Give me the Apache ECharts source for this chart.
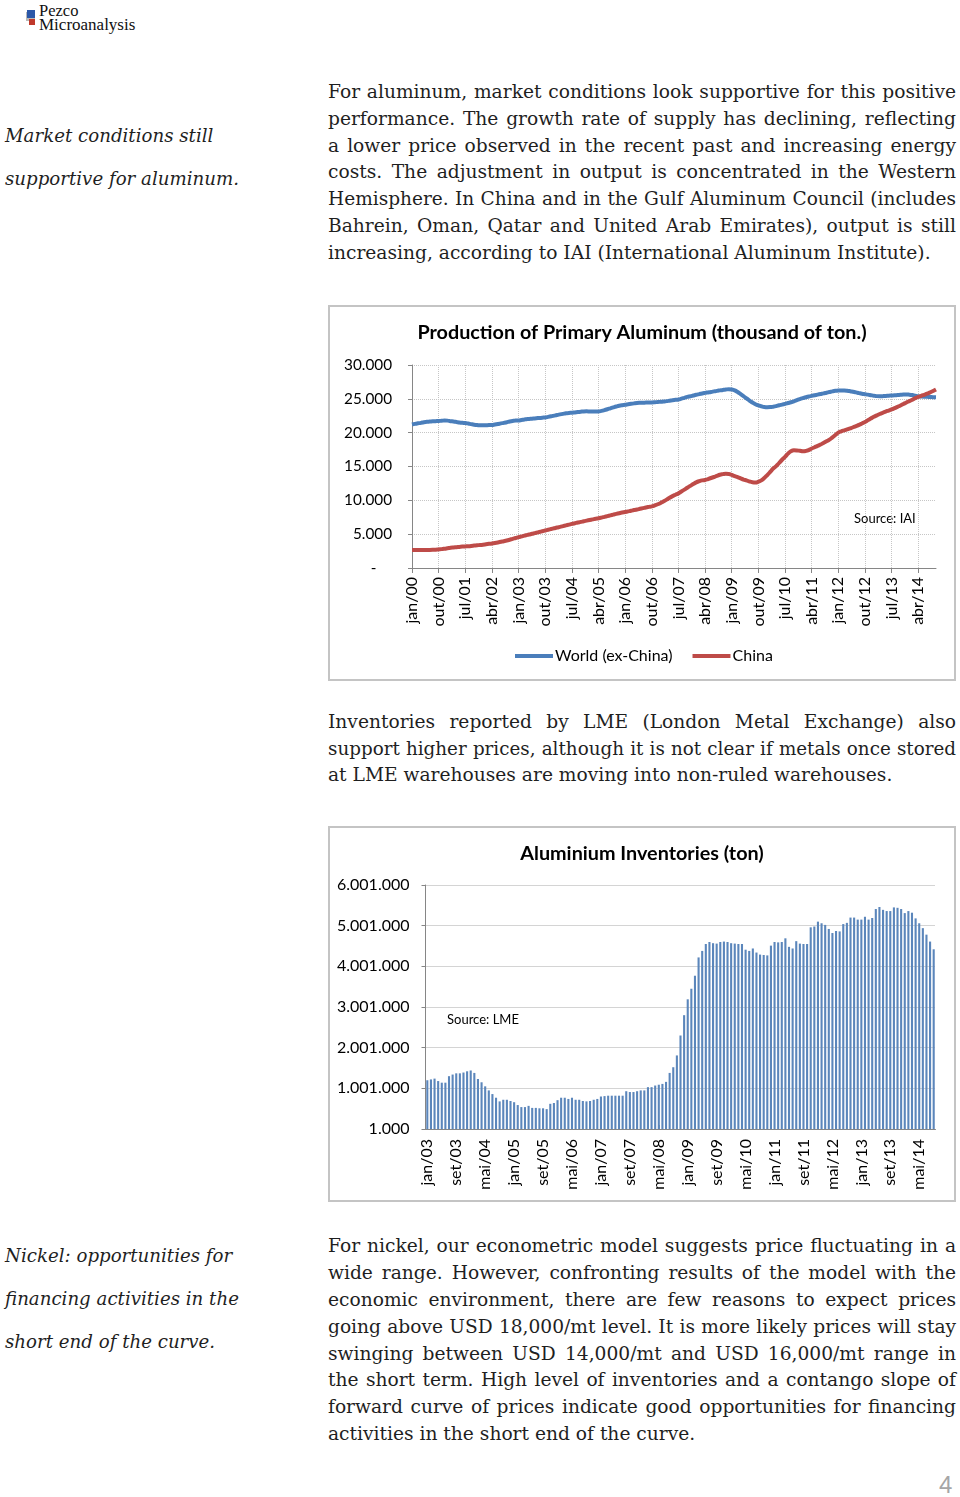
<!DOCTYPE html>
<html><head><meta charset="utf-8">
<script src="https://cdn.jsdelivr.net/npm/echarts@6/dist/echarts.min.js"></script>
<style>
html,body{margin:0;padding:0;background:#fff;}
body{width:960px;height:1497px;position:relative;overflow:hidden;}
.t{position:absolute;left:328px;margin-top:1px;font-family:"DejaVu Serif",serif;font-size:19px;color:#1f1f1f;white-space:nowrap;line-height:26px;height:26px;}
.j{width:628px;text-align:justify;text-align-last:justify;}
.side{left:5px;font-style:italic;}
.box{position:absolute;left:328px;width:628px;height:376px;border:2px solid #c4c4c4;box-sizing:border-box;}
.chart{position:absolute;left:328px;width:628px;height:376px;}
</style></head>
<body>
<div style="position:absolute;left:26px;top:12px;width:9px;height:9px;background:#b8b8b8;"></div>
<div style="position:absolute;left:27px;top:10px;width:8px;height:8px;background:#2b57a8;"></div>
<div style="position:absolute;left:29px;top:19px;width:6px;height:6px;background:#c0392b;"></div>
<div style="position:absolute;left:39px;top:2px;font-family:'Liberation Serif',serif;font-size:16.5px;color:#111;line-height:18px;">Pezco</div>
<div style="position:absolute;left:39px;top:16px;font-family:'Liberation Serif',serif;font-size:17px;color:#111;line-height:18px;">Microanalysis</div>

<div class="t side" style="top:122px;">Market conditions still</div>
<div class="t side" id="sideRef" style="top:165px;">supportive for aluminum.</div>

<div class="t j" style="top:78px;">For aluminum, market conditions look supportive for this positive</div>
<div class="t j" style="top:105px;">performance. The growth rate of supply has declining, reflecting</div>
<div class="t j" style="top:132px;">a lower price observed in the recent past and increasing energy</div>
<div class="t j" style="top:158px;">costs. The adjustment in output is concentrated in the Western</div>
<div class="t j" style="top:185px;">Hemisphere. In China and in the Gulf Aluminum Council (includes</div>
<div class="t j" style="top:212px;">Bahrein, Oman, Qatar and United Arab Emirates), output is still</div>
<div class="t" id="bodyRef" style="top:239px;">increasing, according to IAI (International Aluminum Institute).</div>

<div class="box" style="top:305px;"></div>
<div class="chart" id="c1" style="top:305px;"></div>

<div class="t j" style="top:708px;">Inventories reported by LME (London Metal Exchange) also</div>
<div class="t j" style="top:735px;">support higher prices, although it is not clear if metals once stored</div>
<div class="t" style="top:761px;">at LME warehouses are moving into non-ruled warehouses.</div>

<div class="box" style="top:826px;"></div>
<div class="chart" id="c2" style="top:826px;"></div>

<div class="t side" style="top:1242px;">Nickel: opportunities for</div>
<div class="t side" style="top:1285px;">financing activities in the</div>
<div class="t side" style="top:1328px;">short end of the curve.</div>

<div class="t j" style="top:1232px;">For nickel, our econometric model suggests price fluctuating in a</div>
<div class="t j" style="top:1259px;">wide range. However, confronting results of the model with the</div>
<div class="t j" style="top:1286px;">economic environment, there are few reasons to expect prices</div>
<div class="t j" style="top:1313px;">going above USD 18,000/mt level. It is more likely prices will stay</div>
<div class="t j" style="top:1340px;">swinging between USD 14,000/mt and USD 16,000/mt range in</div>
<div class="t j" style="top:1366px;">the short term. High level of inventories and a contango slope of</div>
<div class="t j" style="top:1393px;">forward curve of prices indicate good opportunities for financing</div>
<div class="t" style="top:1420px;">activities in the short end of the curve.</div>

<div style="position:absolute;left:939px;top:1471px;font-family:'Liberation Sans',sans-serif;font-size:24px;color:#a6a6a6;">4</div>

<script>
// ---------- data ----------
const monthAbbr = ['jan','fev','mar','abr','mai','jun','jul','ago','set','out','nov','dez'];

// Production of primary aluminum, monthly from jan/2000 (thousand ton)
const prodWorld = [
  21200,21300,21380,21450,21550,21600,21640,21680,21700,
  21720,21760,21800,21780,21700,21650,21580,21500,21450,
  21420,21350,21260,21180,21120,21080,21080,21100,21120,
  21130,21200,21280,21370,21450,21550,21650,21730,21790,
  21810,21880,21950,22010,22050,22090,22130,22180,22220,
  22250,22330,22420,22520,22620,22700,22780,22860,22920,
  22940,22990,23050,23100,23140,23150,23140,23130,23130,
  23140,23220,23330,23460,23600,23740,23870,23980,24060,
  24120,24200,24270,24330,24380,24410,24430,24440,24450,
  24460,24490,24530,24570,24610,24660,24730,24800,24850,
  24900,25020,25150,25280,25380,25490,25600,25700,25800,
  25880,25950,26020,26100,26180,26250,26320,26380,26420,
  26380,26250,26000,25700,25380,25050,24750,24450,24200,
  24020,23900,23800,23770,23780,23830,23920,24050,24150,
  24260,24380,24500,24640,24800,24960,25100,25230,25350,
  25440,25530,25620,25710,25800,25900,26000,26100,26180,
  26230,26250,26240,26200,26130,26040,25950,25850,25760,
  25690,25620,25540,25460,25400,25390,25400,25420,25460,
  25490,25520,25560,25600,25640,25650,25620,25560,25470,
  25390,25350,25320,25300,25270,25240,25220
];
const prodChina = [
  2650,2650,2650,2650,2650,2650,2660,2680,2710,
  2750,2790,2850,2920,2990,3040,3080,3120,3160,
  3190,3220,3260,3310,3360,3400,3450,3510,3570,
  3630,3700,3780,3870,3960,4060,4180,4310,4430,
  4560,4670,4780,4900,4990,5100,5210,5320,5430,
  5540,5650,5760,5870,5980,6080,6190,6300,6410,
  6520,6620,6720,6810,6910,7000,7090,7180,7270,
  7350,7450,7560,7670,7780,7890,8000,8100,8190,
  8280,8370,8460,8560,8650,8750,8850,8950,9030,
  9100,9250,9420,9620,9850,10100,10380,10620,10830,
  11030,11300,11580,11860,12130,12400,12650,12830,12950,
  13000,13150,13300,13450,13600,13780,13870,13920,13900,
  13750,13580,13430,13250,13060,12940,12780,12680,12650,
  12750,12950,13300,13730,14200,14700,15050,15520,16000,
  16420,16900,17260,17400,17380,17320,17260,17300,17420,
  17650,17850,18050,18240,18480,18720,18970,19300,19650,
  20000,20200,20350,20490,20640,20800,20980,21160,21360,
  21570,21850,22100,22350,22560,22760,22940,23110,23270,
  23430,23620,23820,24020,24240,24460,24660,24870,25100,
  25290,25440,25600,25760,25950,26150,26370
];

// LME aluminium inventories, monthly from jan/2003 (thousand ton)
const invThousand = [
  1200,1220,1240,1180,1140,1140,1300,1340,1370,1370,
  1390,1420,1440,1380,1230,1150,1050,950,860,770,
  680,720,720,690,660,590,540,540,570,520,
  520,510,510,490,620,640,710,770,770,740,
  770,720,720,690,680,690,720,740,800,810,
  820,820,820,820,820,930,910,910,930,950,
  950,1030,1030,1070,1090,1110,1160,1380,1520,1810,
  2300,2800,3190,3450,3770,4220,4380,4550,4600,4570,
  4560,4600,4610,4600,4570,4560,4550,4550,4410,4380,
  4440,4340,4290,4280,4270,4510,4600,4590,4600,4690,
  4480,4440,4620,4560,4550,4550,4960,4980,5100,5060,
  5020,4920,4820,4870,4860,5040,5070,5200,5200,5150,
  5150,5220,5150,5190,5410,5460,5390,5360,5360,5450,
  5440,5410,5310,5360,5320,5180,5060,4940,4780,4610,4420
];
const invValues = invThousand.map(v => v * 1000);

// y-axis settings
const prodTicks = {min:0, max:30000, interval:5000};
const invTicks = {min:1000, max:6001000, interval:1000000};

function monthLabels(startYear, n){
  const out = [];
  for (let i = 0; i < n; i++){
    const m = i % 12, y = startYear + Math.floor(i / 12);
    out.push(monthAbbr[m] + '/' + String(y % 100).padStart(2,'0'));
  }
  return out;
}
const prodMonths = monthLabels(2000, prodWorld.length);
const invMonths = monthLabels(2003, invValues.length);

function dotThousands(v){
  return String(Math.round(v)).replace(/\B(?=(\d{3})+(?!\d))/g, '.');
}

// ---------- text fitting (match widths of the printed page) ----------
(function fitText(){
  const cv = document.createElement('canvas').getContext('2d');
  function widthAt(el, size){
    const cs = getComputedStyle(el);
    cv.font = cs.fontStyle + ' ' + size + 'px ' + cs.fontFamily;
    return cv.measureText(el.textContent).width;
  }
  const bodyRef = document.getElementById('bodyRef');
  const bodySize = 100 * 603 / widthAt(bodyRef, 100);
  const sideRef = document.getElementById('sideRef');
  const sideSize = 100 * 234 / widthAt(sideRef, 100);
  document.querySelectorAll('.t').forEach(el => {
    let s = el.classList.contains('side') ? sideSize : bodySize;
    if (el.classList.contains('j')){
      const w = widthAt(el, s);
      if (w > 624) s = s * 624 / w;
    }
    el.style.fontSize = s.toFixed(2) + 'px';
  });
})();

const FONT = 'Lato';
const axisGray = '#868686';
const gridGray = '#c6c6c6';

// ---------- chart 1 ----------
const c1 = echarts.init(document.getElementById('c1'));
c1.setOption({
  animation:false,
  textStyle:{fontFamily:FONT},
  title:{text:'Production of Primary Aluminum (thousand of ton.)', left:'center', top:13,
    textStyle:{fontFamily:FONT, fontWeight:'bold', fontSize:19.8, color:'#000'}},
  grid:{left:84, top:60, width:524, height:203},
  legend:{left:182, top:338, icon:'rect', itemWidth:38, itemHeight:4, itemGap:20,
    textStyle:{fontFamily:FONT, fontSize:16, color:'#000', padding:[0,0,0,-3]},
    data:['World (ex-China)','China']},
  xAxis:{type:'category', boundaryGap:false, data:prodMonths,
    axisLine:{lineStyle:{color:axisGray, width:1}},
    axisTick:{show:true, interval:8, length:5, lineStyle:{color:axisGray}},
    axisLabel:{interval:8, rotate:90, fontSize:16, color:'#000', margin:9, fontFamily:FONT},
    splitLine:{show:true, interval:8, lineStyle:{type:'dotted', color:gridGray}}},
  yAxis:{type:'value', min:prodTicks.min, max:prodTicks.max, interval:prodTicks.interval,
    axisLine:{show:true, lineStyle:{color:axisGray}},
    axisTick:{show:true, length:4, lineStyle:{color:axisGray}},
    axisLabel:{fontSize:15.3, color:'#000', margin:20, fontFamily:FONT,
      formatter:v => v === 0 ? '-    ' : dotThousands(v)},
    splitLine:{show:true, lineStyle:{type:'dotted', color:gridGray}}},
  graphic:[{type:'text', left:526, top:207,
    style:{text:'Source: IAI', fontSize:13, fill:'#000', fontFamily:FONT}}],
  series:[
    {name:'World (ex-China)', type:'line', data:prodWorld, smooth:true, symbol:'none',
      lineStyle:{width:4, color:'#4a7ebb'}, itemStyle:{color:'#4a7ebb'}},
    {name:'China', type:'line', data:prodChina, smooth:true, symbol:'none',
      lineStyle:{width:4, color:'#be4b48'}, itemStyle:{color:'#be4b48'}}
  ]
});

// ---------- chart 2 ----------
const c2 = echarts.init(document.getElementById('c2'));
c2.setOption({
  animation:false,
  textStyle:{fontFamily:FONT},
  title:{text:'Aluminium Inventories (ton)', left:'center', top:13,
    textStyle:{fontFamily:FONT, fontWeight:'bold', fontSize:19.8, color:'#000'}},
  grid:{left:97.5, top:59, width:510, height:244},
  xAxis:{type:'category', boundaryGap:true, data:invMonths,
    axisLine:{lineStyle:{color:axisGray, width:1}},
    axisTick:{show:true, interval:7, inside:true, alignWithLabel:true, length:4, lineStyle:{color:'#8aa0c0'}},
    axisLabel:{interval:7, rotate:90, fontSize:16, color:'#000', margin:10, fontFamily:FONT},
    splitLine:{show:false}},
  yAxis:{type:'value', min:invTicks.min, max:invTicks.max, interval:invTicks.interval,
    axisLine:{show:true, lineStyle:{color:axisGray}},
    axisTick:{show:true, length:4, lineStyle:{color:axisGray}},
    axisLabel:{fontSize:16, color:'#000', margin:16, fontFamily:FONT, formatter:v => dotThousands(v)},
    splitLine:{show:true, lineStyle:{type:'dotted', color:'#a8a8a8'}}},
  graphic:[{type:'text', left:119, top:187,
    style:{text:'Source: LME', fontSize:13, fill:'#000', fontFamily:FONT}}],
  series:[{type:'bar', data:invValues, barCategoryGap:'42%',
    itemStyle:{color:'#5b86bb'}}]
});
</script>
</body></html>
